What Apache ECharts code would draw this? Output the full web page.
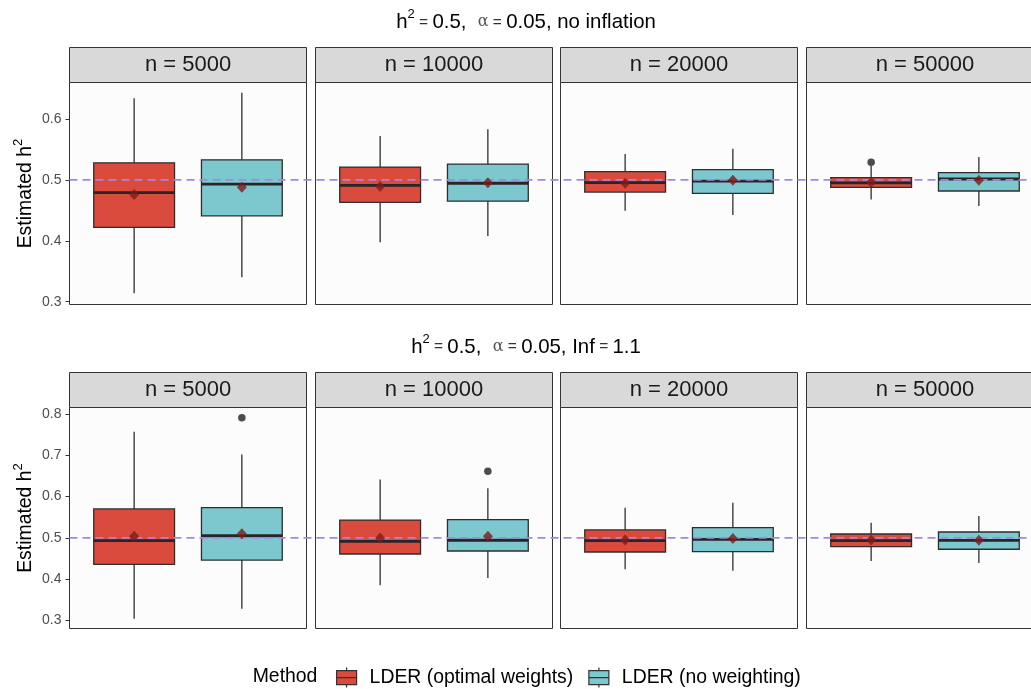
<!DOCTYPE html>
<html><head><meta charset="utf-8">
<script src="https://cdn.jsdelivr.net/npm/echarts@6/dist/echarts.min.js"></script>
<style>html,body{margin:0;padding:0;background:#fff}#chart{width:1031px;height:689px}</style>
</head><body><div id="chart"></div>
<script>
// ---------------- data ----------------
const sampleSizes = [5000, 10000, 20000, 50000];
const methods = ['LDER (optimal weights)', 'LDER (no weighting)'];
const trueH2 = 0.5;
const topTicks = [0.3, 0.4, 0.5, 0.6];
const bottomTicks = [0.3, 0.4, 0.5, 0.6, 0.7, 0.8];

// [min, q1, median, q3, max] per sample size
const noInflOptimal  = [[0.314, 0.422, 0.479, 0.528, 0.634], [0.3975, 0.463, 0.491, 0.521, 0.572], [0.4495, 0.480, 0.4955, 0.5135, 0.5425], [0.468, 0.4878, 0.495, 0.5036, 0.523]];
const noInflNoWeight = [[0.340, 0.441, 0.493, 0.533, 0.643], [0.408, 0.465, 0.4945, 0.526, 0.583], [0.4425, 0.478, 0.498, 0.517, 0.551], [0.457, 0.4818, 0.5015, 0.5118, 0.5376]];
const noInflOptimalMean  = [0.476, 0.489, 0.4945, 0.496];
const noInflNoWeightMean = [0.488, 0.4955, 0.4995, 0.4993];
const noInflOptimalOutliers  = [[], [], [], [0.529]];
const noInflNoWeightOutliers = [[], [], [], []];

const inflOptimal  = [[0.304, 0.4357, 0.493, 0.570, 0.757], [0.385, 0.4607, 0.4914, 0.543, 0.641], [0.4236, 0.4656, 0.493, 0.519, 0.573], [0.4438, 0.4785, 0.493, 0.5092, 0.5366]];
const inflNoWeight = [[0.328, 0.446, 0.505, 0.573, 0.702], [0.4026, 0.468, 0.494, 0.544, 0.620], [0.4204, 0.4664, 0.4963, 0.5246, 0.585], [0.439, 0.4722, 0.4939, 0.5141, 0.5529]];
const inflOptimalMean  = [0.5035, 0.4995, 0.4947, 0.4947];
const inflNoWeightMean = [0.510, 0.5035, 0.498, 0.494];
const inflOptimalOutliers  = [[], [], [], []];
const inflNoWeightOutliers = [[0.791], [0.661], [], []];

// ---------------- layout / style ----------------
const FONT = 'Liberation Sans, Arial, sans-serif';
const COLORS = ['#DA4B3E', '#7CC8CE'];
const MEAN_COLOR = '#7E1C1C';
const PANEL_LEFT = [69.5, 315.5, 560.5, 806.5];
const PANEL_W = 237;
const BOX_WIDTH = 0.75;
const rows = [
  { stripTop: 47.5, top: 82.5, bottom: 304.5, min: 0.29537, max: 0.65996, ticks: topTicks, titleY: 22.3,
    stats: [noInflOptimal, noInflNoWeight], means: [noInflOptimalMean, noInflNoWeightMean], outliers: [noInflOptimalOutliers, noInflNoWeightOutliers],
    title: '{b|h}{sup|2}{eq| = }{b|0.5,  }{al|α}{eq| = }{b|0.05, no inflation}' },
  { stripTop: 372.5, top: 407.5, bottom: 628.5, min: 0.28017, max: 0.8158, ticks: bottomTicks, titleY: 347,
    stats: [inflOptimal, inflNoWeight], means: [inflOptimalMean, inflNoWeightMean], outliers: [inflOptimalOutliers, inflNoWeightOutliers],
    title: '{b|h}{sup|2}{eq| = }{b|0.5,  }{al|α}{eq| = }{b|0.05, Inf}{eq| = }{b|1.1}' }
];

const titleRich = {
  b: { fontSize: 20.4, fontFamily: FONT, fill: '#000', lineHeight: 28 },
  sup: { fontSize: 13, fontFamily: FONT, fill: '#000', lineHeight: 13, verticalAlign: 'top' },
  eq: { fontSize: 15.5, fontFamily: FONT, fill: '#333', lineHeight: 28 },
  al: { fontSize: 16, fontFamily: 'DejaVu Serif, serif', fill: '#555', lineHeight: 28 }
};
const yRich = {
  b: { fontSize: 19.4, fontFamily: FONT, fill: '#000', lineHeight: 28 },
  sup: { fontSize: 13, fontFamily: FONT, fill: '#000', lineHeight: 13, verticalAlign: 'top' }
};

function renderBox(params, api) {
  const x = api.value(0);
  const lo = api.coord([x, api.value(1)]);
  const q1 = api.coord([x, api.value(2)]);
  const med = api.coord([x, api.value(3)]);
  const q3 = api.coord([x, api.value(4)]);
  const hi = api.coord([x, api.value(5)]);
  const w = api.size([BOX_WIDTH, 0])[0];
  const cx = lo[0];
  const color = api.visual('color');
  const ls = { stroke: '#2E2E2E', lineWidth: 1.3 };
  return { type: 'group', children: [
    { type: 'line', shape: { x1: cx, y1: lo[1], x2: cx, y2: q1[1] }, style: ls },
    { type: 'line', shape: { x1: cx, y1: q3[1], x2: cx, y2: hi[1] }, style: ls },
    { type: 'rect', shape: { x: cx - w / 2, y: q3[1], width: w, height: q1[1] - q3[1] }, style: { fill: color, stroke: '#2E2E2E', lineWidth: 1.3 } },
    { type: 'line', shape: { x1: cx - w / 2, y1: med[1], x2: cx + w / 2, y2: med[1] }, style: { stroke: '#262626', lineWidth: 2.8 } }
  ]};
}

const grid = [], xAxis = [], yAxis = [], series = [], graphic = [];

rows.forEach((R, r) => {
  sampleSizes.forEach((n, p) => {
    const gi = grid.length;
    grid.push({ left: PANEL_LEFT[p], top: R.top, width: PANEL_W, height: R.bottom - R.top, show: true,
      backgroundColor: '#FCFCFC', borderColor: '#333', borderWidth: 1, containLabel: false, outerBoundsMode: 'none' });
    xAxis.push({ gridIndex: gi, type: 'value', min: 0.4, max: 2.6, show: false });
    yAxis.push({ gridIndex: gi, type: 'value', min: R.min, max: R.max, show: p === 0,
      axisLine: { show: false }, splitLine: { show: false },
      axisTick: { show: true, length: 4, lineStyle: { color: '#333', width: 1 }, customValues: R.ticks },
      axisLabel: { show: true, customValues: R.ticks, margin: 8, color: '#4D4D4D', fontSize: 14, fontFamily: FONT,
        formatter: v => Number(v).toFixed(1) } });
    methods.forEach((m, k) => {
      series.push({ type: 'custom', name: m, xAxisIndex: gi, yAxisIndex: gi, z: 2, silent: true,
        itemStyle: { color: COLORS[k], borderColor: '#333', borderWidth: 1 },
        renderItem: renderBox, encode: { x: 0, y: [1, 2, 3, 4, 5] },
        data: [[k + 1].concat(R.stats[k][p])] });
      const outs = R.outliers[k][p].map(v => [k + 1, v]);
      if (outs.length) series.push({ type: 'scatter', xAxisIndex: gi, yAxisIndex: gi, z: 4, silent: true,
        symbol: 'circle', symbolSize: 7.5, itemStyle: { color: '#1F1F1F' }, data: outs });
    });
    series.push({ type: 'scatter', xAxisIndex: gi, yAxisIndex: gi, z: 5, silent: true,
      symbol: 'diamond', symbolSize: [10, 11], itemStyle: { color: MEAN_COLOR },
      data: methods.map((m, k) => [k + 1, R.means[k][p]]) });

    // strip
    graphic.push({ type: 'rect', silent: true, z: 10,
      shape: { x: PANEL_LEFT[p], y: R.stripTop, width: PANEL_W, height: R.top - R.stripTop },
      style: { fill: '#D9D9D9', stroke: '#333', lineWidth: 1 } });
    graphic.push({ type: 'text', silent: true, z: 11,
      x: PANEL_LEFT[p] + PANEL_W / 2, y: (R.stripTop + R.top) / 2,
      style: { text: 'n = ' + n, fontSize: 22, fontFamily: FONT, fill: '#1A1A1A', align: 'center', verticalAlign: 'middle' } });
  });
  // overlay grid for the reference line spanning whole row
  const oi = grid.length;
  grid.push({ left: PANEL_LEFT[0], top: R.top, width: 1031 - PANEL_LEFT[0], height: R.bottom - R.top, show: false, containLabel: false, outerBoundsMode: 'none' });
  xAxis.push({ gridIndex: oi, type: 'value', min: 0, max: 1, show: false });
  yAxis.push({ gridIndex: oi, type: 'value', min: R.min, max: R.max, show: false });
  series.push({ type: 'line', xAxisIndex: oi, yAxisIndex: oi, z: 3, silent: true, symbol: 'none',
    lineStyle: { color: '#A487E2', width: 1.8, type: [8, 5] }, data: [[0, trueH2], [1, trueH2]] });

  graphic.push({ type: 'text', silent: true, x: 526, y: R.titleY,
    style: { text: R.title, rich: titleRich, align: 'center', verticalAlign: 'middle', fontSize: 20, fontFamily: FONT } });
  graphic.push({ type: 'text', silent: true, x: 26, y: (R.top + R.bottom) / 2, rotation: Math.PI / 2,
    style: { text: '{b|Estimated h}{sup|2}', rich: yRich, align: 'center', verticalAlign: 'middle', fontSize: 19.4, fontFamily: FONT } });
});

graphic.push({ type: 'text', silent: true, x: 252.7, y: 677,
  style: { text: 'Method', fontSize: 19.4, fontFamily: FONT, fill: '#000', align: 'left', verticalAlign: 'middle' } });

const chart = echarts.init(document.getElementById('chart'), null, { renderer: 'canvas' });
chart.setOption({
  animation: false,
  backgroundColor: '#FFFFFF',
  grid, xAxis, yAxis, series, graphic,
  legend: {
    left: 336, top: 667, padding: 0, orient: 'horizontal',
    itemWidth: 20, itemHeight: 20, itemGap: 15, selectedMode: false,
    icon: 'path://M0,3 L20,3 L20,17 L0,17 Z M10,0 L10,3 M10,17 L10,20 M0,10 L20,10',
    itemStyle: { borderColor: '#333', borderWidth: 1.2 },
    textStyle: { fontSize: 19.4, fontFamily: FONT, color: '#000', padding: [0, 0, 0, 8] },
    data: methods.map((m, k) => ({ name: m, itemStyle: { color: COLORS[k], borderColor: '#333', borderWidth: 1.2 } }))
  }
});
</script></body></html>
